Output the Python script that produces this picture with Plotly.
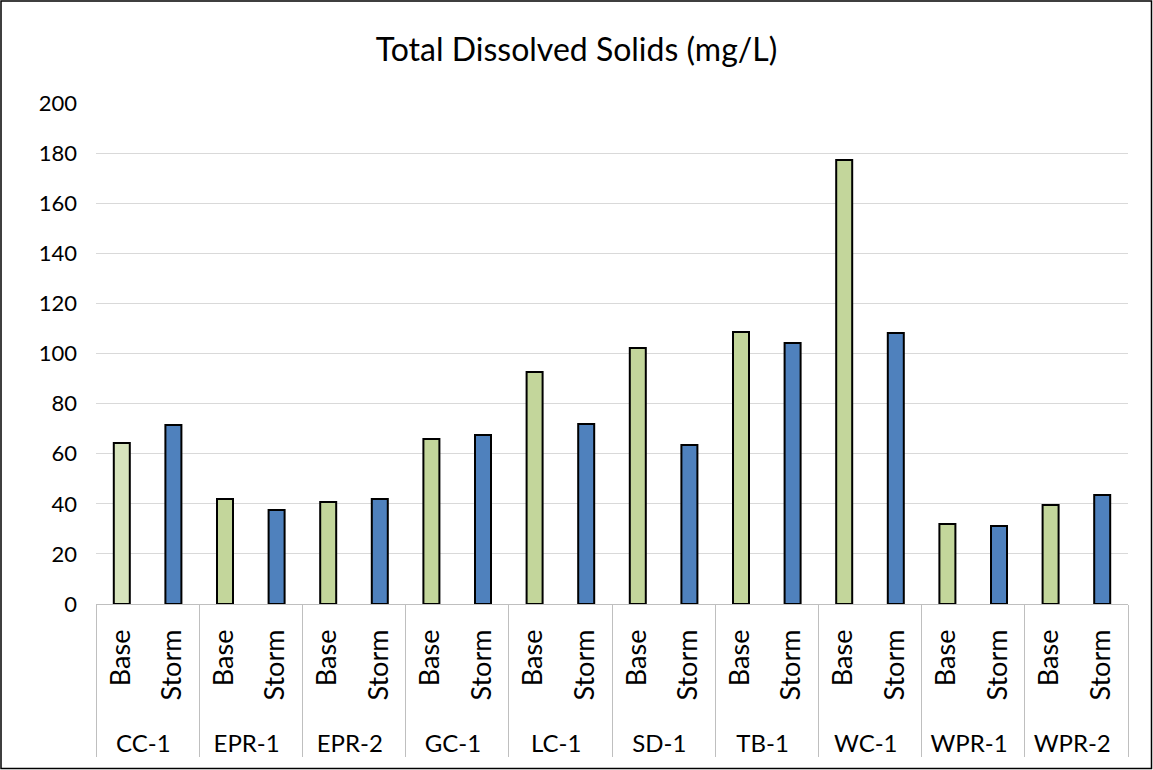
import plotly.graph_objects as go

sites = ["CC-1", "EPR-1", "EPR-2", "GC-1", "LC-1", "SD-1", "TB-1", "WC-1", "WPR-1", "WPR-2"]
seasons = ["Base", "Storm"]
base_vals = [64.3, 41.9, 40.7, 65.9, 92.6, 102.2, 108.6, 177.2, 31.9, 39.5]
storm_vals = [71.5, 37.5, 41.9, 67.5, 71.9, 63.5, 104.2, 108.2, 31.1, 43.5]

pad = "\u00a0" * 3
outer, inner, vals, colors = [], [], [], []
for i, s in enumerate(sites):
    for season, v in zip(seasons, [base_vals[i], storm_vals[i]]):
        outer.append(s)
        inner.append(f"<span style='font-size:27px'>{pad}{season}</span>")
        vals.append(v)
        if season == "Storm":
            colors.append("#4F81BD")
        elif i == 0:
            colors.append("#D7E4BD")
        else:
            colors.append("#C3D69B")

fig = go.Figure()
fig.add_trace(go.Bar(
    x=[outer, inner], y=vals,
    marker=dict(color=colors, line=dict(color="black", width=2)),
))

L, R, T, B = 96, 25, 103, 166
W, H = 1153, 770
pw, ph = W - L - R, H - T - B

fig.update_layout(
    width=W, height=H,
    margin=dict(l=L, r=R, t=T, b=B, autoexpand=False),
    paper_bgcolor="white", plot_bgcolor="white",
    bargap=0.69,
    showlegend=False,
    font=dict(family="Lato, Open Sans, sans-serif", size=22, color="black"),
    title=dict(text="Total Dissolved Solids (mg/L)", x=0.5, xanchor="center",
               y=1 - 50 / H, yanchor="middle",
               font=dict(size=32, color="black")),
    yaxis=dict(range=[0, 200], dtick=20, showgrid=True, gridcolor="#D9D9D9",
               gridwidth=1, zeroline=False, showline=False, ticks="",
               tickfont=dict(size=22), ticklabelstandoff=18),
    xaxis=dict(type="multicategory", showline=True, linecolor="#BFBFBF",
               linewidth=1, showgrid=False, ticks="", tickangle=-90,
               showdividers=True, dividercolor="#BFBFBF", dividerwidth=1,
               tickfont=dict(size=24), ticklabelstandoff=15),
    shapes=[dict(type="rect", xref="paper", yref="paper",
                 x0=(1 - L) / pw, x1=(W - 1.5 - L) / pw,
                 y0=(T + ph - (H - 1.5)) / ph, y1=(T + ph - 1) / ph,
                 line=dict(color="black", width=1.5), fillcolor="rgba(0,0,0,0)")],
)

fig.write_html("out.html", config={"displayModeBar": False},
               post_script="document.body.style.margin='0';document.body.style.overflow='hidden';")
